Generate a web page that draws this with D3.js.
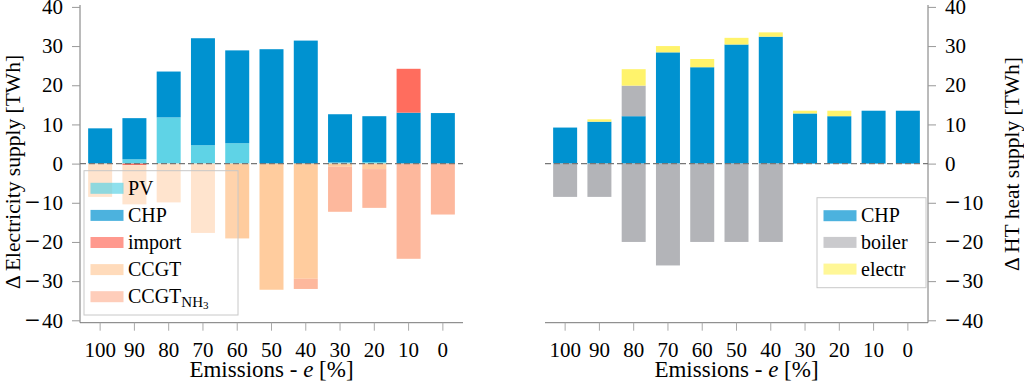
<!DOCTYPE html>
<html>
<head>
<meta charset="utf-8">
<script src="https://cdn.jsdelivr.net/npm/d3@7"></script>
</head>
<body style="margin:0; background:#fff">
<div id="chart"></div>
<script>
// emission levels on the x axis
const emissions = ["100", "90", "80", "70", "60", "50", "40", "30", "20", "10", "0"];
const yTicks = [-40, -30, -20, -10, 0, 10, 20, 30, 40];

// electricity supply change [TWh]
const elecPV      = [0, 1.1, 11.8, 4.7, 5.2, 0, 0, 0.3, 0.4, 0, 0];
const elecCHP     = [9.0, 10.5, 11.7, 27.3, 23.7, 29.2, 31.4, 12.3, 11.7, 13.0, 12.9];
const elecImport  = [0, -0.4, 0, 0, 0, 0, 0, 0, 0, 11.2, 0];
const elecCCGT    = [-8.5, -10.0, -9.9, -17.7, -19.1, -32.2, -29.4, -0.8, -1.4, 0, 0];
const elecCCGTNH3 = [0, 0, 0, 0, 0, 0, -2.6, -11.5, -9.9, -24.3, -13.0];

// HT heat supply change [TWh]
const heatCHP        = [9.2, 10.7, 12.1, 28.4, 24.6, 30.4, 32.4, 12.8, 12.1, 13.5, 13.5];
const heatBoilerUp   = [0, 0, 7.8, 0, 0, 0, 0, 0, 0, 0, 0];
const heatBoilerDown = [-8.5, -8.5, -20.0, -26.0, -20.0, -20.0, -20.0, 0, 0, 0, 0];
const heatElectr     = [0, 0.6, 4.2, 1.6, 2.1, 1.7, 1.1, 0.7, 1.4, 0, 0];

const FONT = '"Liberation Serif", "Times New Roman", serif';
const width = 1024, height = 381;
const svg = d3.select("#chart").append("svg")
  .attr("width", width)
  .attr("height", height)
  .style("font-family", FONT);

const y = d3.scaleLinear().domain([-40, 40]).range([320.3, 6.9]);

function drawPanel(cfg) {
  const g = svg.append("g");
  const x = d3.scaleBand()
    .domain(emissions)
    .range([cfg.x0 + 3, cfg.x1 - 3])
    .paddingInner(0.3)
    .paddingOuter(0.15);

  // build table for the stack
  const table = emissions.map((e, i) => {
    const row = { e: e };
    cfg.series.forEach(s => { row[s.key] = s.values[i]; });
    return row;
  });
  const stacked = d3.stack()
    .keys(cfg.series.map(s => s.key))
    .offset(d3.stackOffsetDiverging)(table);

  stacked.forEach((layer, li) => {
    const s = cfg.series[li];
    g.append("g")
      .selectAll("rect")
      .data(layer.filter(d => d[1] - d[0] !== 0))
      .enter()
      .append("rect")
      .attr("fill", d => s.fill ? s.fill(d.data.e) : s.color)
      .attr("x", d => x(d.data.e))
      .attr("width", x.bandwidth())
      .attr("y", d => y(Math.max(d[0], d[1])))
      .attr("height", d => Math.abs(y(d[0]) - y(d[1])));
  });

  // dashed zero line
  g.append("line")
    .attr("x1", cfg.x0).attr("x2", cfg.x1)
    .attr("y1", y(0)).attr("y2", y(0))
    .attr("stroke", "#777")
    .attr("stroke-width", 1.3)
    .attr("stroke-dasharray", "6,3");

  // axis lines
  const axisX = cfg.side === "left" ? cfg.x0 : cfg.x1;
  g.append("line")
    .attr("x1", axisX).attr("x2", axisX)
    .attr("y1", 5).attr("y2", 322.7)
    .attr("stroke", "#777");
  g.append("line")
    .attr("x1", cfg.x0).attr("x2", cfg.x1)
    .attr("y1", 322.7).attr("y2", 322.7)
    .attr("stroke", "#777");

  // x axis
  const xAxis = g.append("g")
    .attr("transform", "translate(0,322.7)")
    .call(d3.axisBottom(x).tickSize(8).tickSizeOuter(0).tickPadding(11));
  xAxis.select(".domain").remove();
  xAxis.attr("font-family", null);
  xAxis.selectAll(".tick line").attr("stroke", "#aaa");
  xAxis.selectAll(".tick text")
    .attr("fill", "#000")
    .style("font-family", FONT)
    .style("font-size", "21px");

  // y axis
  const yAxis = g.append("g")
    .attr("transform", `translate(${axisX},0)`)
    .call((cfg.side === "left" ? d3.axisLeft(y) : d3.axisRight(y))
      .tickValues(yTicks).tickSize(8).tickSizeOuter(0).tickPadding(9));
  yAxis.select(".domain").remove();
  yAxis.attr("font-family", null);
  yAxis.selectAll(".tick line").attr("stroke", "#999");
  yAxis.selectAll(".tick text")
    .attr("fill", "#000")
    .style("font-family", FONT)
    .style("font-size", "21px")
    .each(function(d) {
      // wider math-style minus sign like the original
      if (d < 0) {
        const t = d3.select(this).text(null).attr("dy", null);
        t.append("tspan").style("font-size", "27px").attr("dy", 7.9).text("−");
        t.append("tspan").attr("dx", 2).attr("dy", -1.2).text(Math.abs(d));
      }
    });

  // axis titles
  const xt = g.append("text")
    .attr("x", (cfg.x0 + cfg.x1) / 2)
    .attr("y", 377)
    .attr("text-anchor", "middle")
    .style("font-family", FONT)
    .style("font-size", "23px");
  xt.append("tspan").text("Emissions - ");
  xt.append("tspan").attr("font-style", "italic").text("e");
  xt.append("tspan").text(" [%]");

  g.append("text")
    .attr("transform", `translate(${cfg.titleX},${cfg.titleY}) rotate(-90)`)
    .attr("text-anchor", "middle")
    .style("font-family", FONT)
    .style("font-size", "21.5px")
    .text(cfg.title);

  // legend
  const lg = cfg.legend;
  const leg = g.append("g");
  leg.append("rect")
    .attr("x", lg.x).attr("y", lg.y)
    .attr("width", lg.w).attr("height", lg.h)
    .attr("fill", "#fff")
    .attr("fill-opacity", 0.15)
    .attr("stroke", "#c8c8c8");
  lg.items.forEach((it, i) => {
    const cy = lg.y + lg.first + i * lg.step;
    leg.append("rect")
      .attr("x", lg.x + 6.5).attr("y", cy - 5.5)
      .attr("width", 33).attr("height", 11)
      .attr("fill", it.color)
      .attr("fill-opacity", 0.7);
    const t = leg.append("text")
      .attr("x", lg.x + 44)
      .attr("y", cy + 6.5)
      .style("font-family", FONT)
      .style("font-size", "20px");
    t.append("tspan").text(it.label);
    if (it.sub) {
      t.append("tspan").attr("dy", 3.5).style("font-size", "15px").text(it.sub);
      t.append("tspan").attr("dy", 2.5).style("font-size", "11px").text(it.sub2);
    }
  });
}

const cPV = "#5fd3e6", cCHP = "#0092d0", cImport = "#ff6d5e",
      cCCGT = "#ffcc9e", cCCGTLight = "#ffe0c6", cNH3 = "#fdb89d",
      cBoiler = "#b3b4b8", cElectr = "#fff36b";

drawPanel({
  x0: 80, x1: 463, side: "left",
  title: "Δ Electricity supply [TWh]", titleX: 20, titleY: 172,
  series: [
    { key: "PV", values: elecPV, color: cPV },
    { key: "CHP", values: elecCHP, color: cCHP },
    { key: "import", values: elecImport, color: cImport },
    // high-emission scenarios are drawn in a paler shade
    { key: "CCGT", values: elecCCGT, color: cCCGT,
      fill: e => (+e >= 70 ? cCCGTLight : cCCGT) },
    { key: "CCGTNH3", values: elecCCGTNH3, color: cNH3 }
  ],
  legend: {
    x: 84, y: 170.7, w: 154, h: 144.3, first: 17.6, step: 27.1,
    items: [
      { label: "PV", color: cPV },
      { label: "CHP", color: cCHP },
      { label: "import", color: cImport },
      { label: "CCGT", color: cCCGT },
      { label: "CCGT", sub: "NH", sub2: "3", color: cNH3 }
    ]
  }
});

drawPanel({
  x0: 545, x1: 928, side: "right",
  title: "Δ HT heat supply [TWh]", titleX: 1019, titleY: 164,
  series: [
    { key: "CHP", values: heatCHP, color: cCHP },
    { key: "boilerUp", values: heatBoilerUp, color: cBoiler },
    { key: "boilerDown", values: heatBoilerDown, color: cBoiler },
    { key: "electr", values: heatElectr, color: cElectr }
  ],
  legend: {
    x: 817, y: 197.7, w: 109, h: 90, first: 18, step: 26.7,
    items: [
      { label: "CHP", color: cCHP },
      { label: "boiler", color: cBoiler },
      { label: "electr", color: cElectr }
    ]
  }
});
</script>
</body>
</html>
